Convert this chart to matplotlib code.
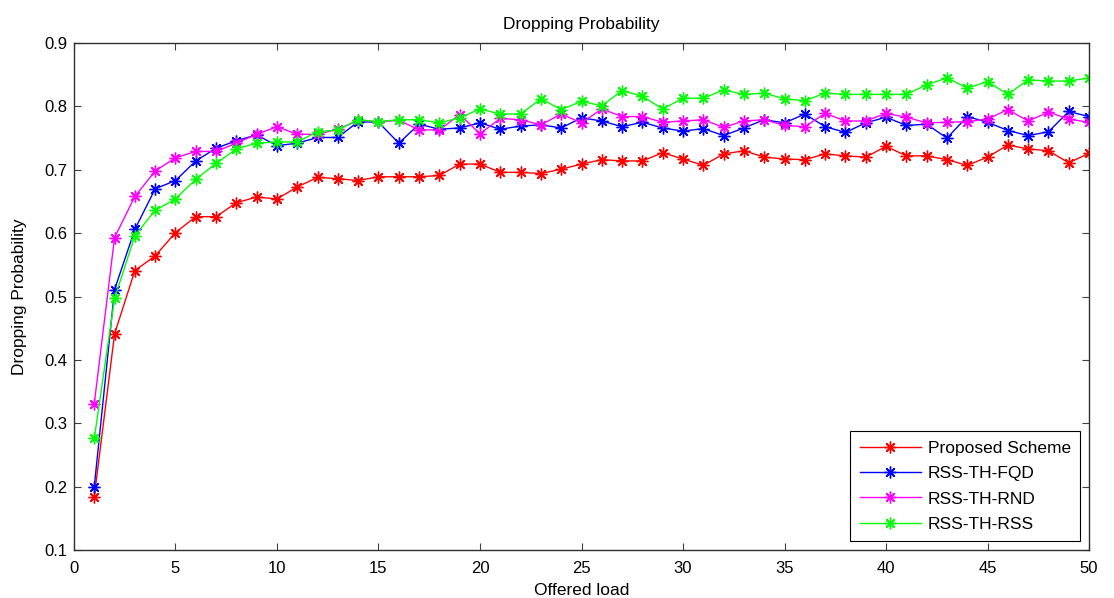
import matplotlib
matplotlib.use("Agg")
import matplotlib.pyplot as plt

offered_load = list(range(1, 51))

proposed = [0.184, 0.441, 0.541, 0.564, 0.601, 0.626, 0.626, 0.648, 0.657, 0.654,
            0.673, 0.688, 0.686, 0.683, 0.689, 0.689, 0.689, 0.691, 0.709, 0.709,
            0.696, 0.696, 0.694, 0.701, 0.709, 0.716, 0.714, 0.714, 0.727, 0.717,
            0.707, 0.725, 0.730, 0.720, 0.717, 0.716, 0.725, 0.722, 0.720, 0.737,
            0.722, 0.722, 0.716, 0.707, 0.720, 0.739, 0.733, 0.730, 0.711, 0.726]

rss_th_fqd = [0.200, 0.511, 0.606, 0.670, 0.683, 0.714, 0.734, 0.746, 0.755, 0.738,
              0.742, 0.751, 0.751, 0.776, 0.775, 0.742, 0.772, 0.764, 0.766, 0.774,
              0.764, 0.769, 0.771, 0.766, 0.782, 0.777, 0.768, 0.775, 0.766, 0.761,
              0.765, 0.754, 0.766, 0.779, 0.774, 0.788, 0.768, 0.759, 0.774, 0.783,
              0.770, 0.772, 0.750, 0.784, 0.775, 0.762, 0.754, 0.760, 0.792, 0.784]

rss_th_rnd = [0.331, 0.593, 0.658, 0.698, 0.719, 0.729, 0.729, 0.742, 0.756, 0.768,
              0.756, 0.756, 0.764, 0.778, 0.776, 0.778, 0.763, 0.763, 0.787, 0.757,
              0.781, 0.779, 0.771, 0.788, 0.774, 0.796, 0.784, 0.784, 0.775, 0.777,
              0.779, 0.767, 0.777, 0.779, 0.770, 0.768, 0.789, 0.777, 0.777, 0.789,
              0.783, 0.774, 0.775, 0.776, 0.780, 0.795, 0.777, 0.791, 0.780, 0.775]

rss_th_rss = [0.276, 0.497, 0.596, 0.636, 0.654, 0.685, 0.710, 0.733, 0.742, 0.744,
              0.744, 0.760, 0.763, 0.779, 0.776, 0.779, 0.779, 0.774, 0.782, 0.796,
              0.788, 0.788, 0.812, 0.795, 0.808, 0.801, 0.825, 0.816, 0.796, 0.813,
              0.813, 0.826, 0.819, 0.821, 0.812, 0.809, 0.821, 0.819, 0.819, 0.819,
              0.819, 0.834, 0.845, 0.829, 0.839, 0.819, 0.842, 0.840, 0.840, 0.845]

series = [
    ("Proposed Scheme", proposed, "#ff0000"),
    ("RSS-TH-FQD", rss_th_fqd, "#0000ff"),
    ("RSS-TH-RND", rss_th_rnd, "#ff00ff"),
    ("RSS-TH-RSS", rss_th_rss, "#00ff00"),
]

x_ticks = [0, 5, 10, 15, 20, 25, 30, 35, 40, 45, 50]
y_ticks = [0.1, 0.2, 0.3, 0.4, 0.5, 0.6, 0.7, 0.8, 0.9]

plt.rcParams["font.family"] = ["Liberation Sans", "DejaVu Sans"]

fig = plt.figure(figsize=(11.14, 5.98), dpi=100)
ax = fig.add_axes([0.0664, 0.0803, 0.9112, 0.8477])

asterisk = (8, 2, 0)
for name, values, color in series:
    ax.plot(offered_load, values, color=color, linewidth=1.0,
            marker=asterisk, markersize=8.5, markeredgewidth=1.0,
            markeredgecolor=color, label=name)

ax.set_xlim(0, 50)
ax.set_ylim(0.1, 0.9)
ax.set_xticks(x_ticks)
ax.set_yticks(y_ticks)
ax.set_yticklabels([f"{v:.1f}" for v in y_ticks])
ax.tick_params(direction="in", top=True, right=True, length=5,
               width=0.8, labelsize=12, color="#404040", pad=5)
ax.tick_params(axis="x", pad=8)
for spine in ax.spines.values():
    spine.set_color("#303030")
    spine.set_linewidth(1.0)

ax.set_title("Dropping Probability", fontsize=12.5, pad=10)
ax.set_xlabel("Offered load", fontsize=12.5, labelpad=5)
ax.set_ylabel("Dropping Probability", fontsize=12.5, labelpad=12)

leg = ax.legend(loc="lower right", fontsize=12.5, frameon=True, fancybox=False,
                edgecolor="black", framealpha=1.0, borderpad=0.55,
                handlelength=3.5, handletextpad=0.4, labelspacing=0.58,
                borderaxespad=0.5)
leg.get_frame().set_linewidth(0.8)

fig.savefig("out.png", dpi=100)
